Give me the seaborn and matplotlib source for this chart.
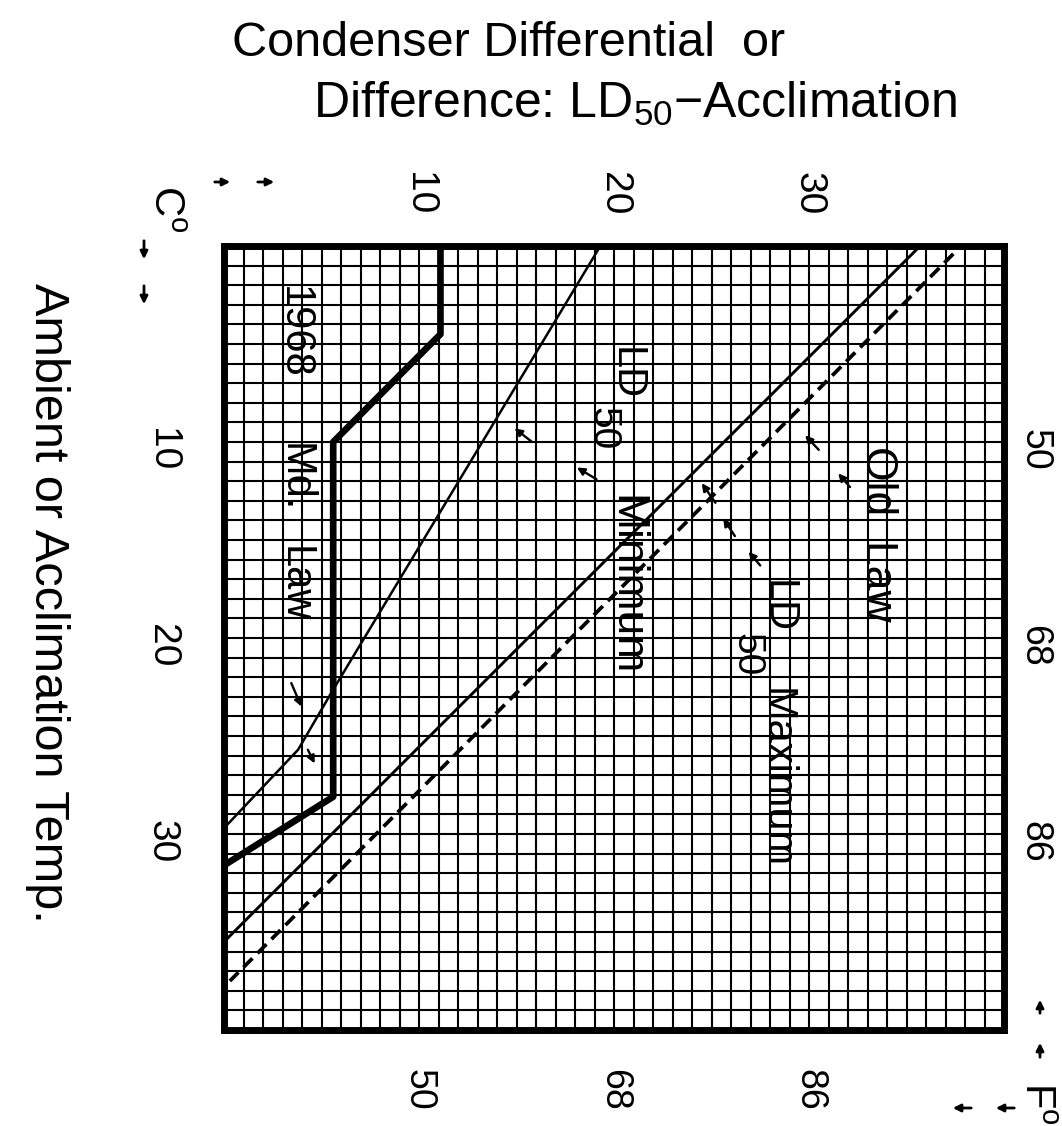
import matplotlib
matplotlib.use("Agg")
import matplotlib.pyplot as plt
from matplotlib import font_manager
from matplotlib.transforms import ScaledTranslation
import seaborn as sns
import numpy as np
import pandas as pd

# ---- data (degrees C): x = condenser differential, y = ambient / acclimation temp ----
md_law_diff = [11.1, 11.1, 5.6, 5.6, 0.0]
md_law_amb = [0.0, 4.5, 10.0, 28.1, 31.6]

ld50_min_diff = [19.3, 5.5, 3.8, 0.0]
ld50_min_amb = [0.0, 22.8, 25.7, 29.7]

old_law_diff = [35.7, 0.0]
old_law_amb = [0.0, 35.5]

ld50_max_diff = [37.4, 0.3]
ld50_max_amb = [0.4, 37.5]

celsius_ticks = [10, 20, 30]
fahrenheit_ticks = [50, 68, 86]
celsius_labels = ["10", "20", "30"]
fahrenheit_labels = ["50", "68", "86"]

sns.set_theme(style="white")
installed = {f.name for f in font_manager.fontManager.ttflist}
narrow = "Liberation Sans Narrow" in installed
base_font = "Liberation Sans Narrow" if narrow else "Liberation Sans"
k = 1.12 if narrow else 1.0   # size factor so text keeps its length
plt.rcParams["font.family"] = [base_font, "DejaVu Sans"]
plt.rcParams["mathtext.fontset"] = "custom"
plt.rcParams["mathtext.rm"] = base_font
plt.rcParams["mathtext.it"] = base_font
plt.rcParams.update({"text.color": "black", "axes.labelcolor": "black",
                     "xtick.color": "black", "ytick.color": "black"})

W, H = 1062, 1126
fig = plt.figure(figsize=(W / 100, H / 100), dpi=100)
fig.patch.set_facecolor("white")
ax = fig.add_axes([224 / W, 1 - 1030 / H, 780 / W, 784 / H])

series = [
    ("1968 Md. Law", md_law_diff, md_law_amb, 4.8, "-"),
    ("LD50 Minimum", ld50_min_diff, ld50_min_amb, 1.8, "-"),
    ("Old Law", old_law_diff, old_law_amb, 2.1, "-"),
    ("LD50 Maximum", ld50_max_diff, ld50_max_amb, 2.7, "--"),
]
for name, xs, ys, lw, ls in series:
    df = pd.DataFrame({"diff": xs, "amb": ys})
    sns.lineplot(data=df, x="diff", y="amb", sort=False, estimator=None,
                 color="black", lw=lw, ax=ax, solid_capstyle="butt")
    line = ax.lines[-1]
    line.set_linestyle(ls)
    if ls == "--":
        line.set_dashes((3.4, 1.9))
    line.set_zorder(5)

ax.set_xlim(0, 40)
ax.set_ylim(40, 0)

# grid every degree
ax.set_xticks(np.arange(0, 41, 1), minor=True)
ax.set_yticks(np.arange(0, 41, 1), minor=True)
ax.grid(which="both", color="black", lw=1.5)
ax.set_axisbelow(True)
for s in ax.spines.values():
    s.set_visible(True)
    s.set_color("black")
    s.set_linewidth(5.0)

fs = 28 * k
# top: degrees C differential
ax.set_xticks(celsius_ticks)
ax.set_xticklabels(celsius_labels, rotation=-90, fontsize=fs)
ax.tick_params(axis="x", which="both", length=0, top=False, bottom=False,
               labeltop=True, labelbottom=False, pad=22)
# left: degrees C ambient
ax.set_yticks(celsius_ticks)
ax.set_yticklabels(celsius_labels, rotation=-90, fontsize=fs, va="center")
ax.tick_params(axis="y", which="both", length=0, left=False, right=False, pad=32)
down = ScaledTranslation(0, -8 / 100, fig.dpi_scale_trans)
for t in ax.get_yticklabels():
    t.set_transform(t.get_transform() + down)

c2f = (lambda c: c * 9 / 5 + 32, lambda f: (f - 32) * 5 / 9)
secx = ax.secondary_xaxis("bottom", functions=c2f)
secx.set_xticks(fahrenheit_ticks)
secx.set_xticklabels(fahrenheit_labels, rotation=-90, fontsize=27 * k)
secx.tick_params(length=0, pad=28)
secy = ax.secondary_yaxis("right", functions=c2f)
secy.set_yticks(fahrenheit_ticks)
secy.set_yticklabels(fahrenheit_labels, rotation=-90, fontsize=27 * k, va="center")
secy.tick_params(length=0, pad=9)
for t in secy.get_yticklabels():
    t.set_transform(t.get_transform() + down)
for sa in (secx, secy):
    for s in sa.spines.values():
        s.set_visible(False)

ax.set_xlabel("")
ax.set_ylabel("Ambient or Acclimation Temp.", rotation=-90, fontsize=35 * k,
              va="center", ha="center")
ax.yaxis.set_label_coords(-0.226, 0.545)

fig.text(509 / W, 1 - 43 / H, "Condenser Differential  or", fontsize=35 * k,
         ha="center", va="center")
fig.text(635 / W, 1 - 104 / H, "Difference: LD$_{50}$$-$Acclimation", fontsize=36 * k,
         ha="center", va="center")

# curve labels
lab_kw = dict(rotation=-90, ha="center", va="center", fontsize=30 * k, zorder=6)
ax.text(3.6, 4.4, "1968", **lab_kw)
ax.text(3.6, 11.8, "Md.", **lab_kw)
ax.text(3.6, 17.25, "Law", **lab_kw)
ax.text(20.6, 6.5, "LD", **lab_kw)
ax.text(19.4, 9.3, "50", **{**lab_kw, "fontsize": 28 * k})
ax.text(20.6, 17.3, "Minimum", **{**lab_kw, "fontsize": 32 * k})
ax.text(33.5, 14.7, "Old  Law", **{**lab_kw, "fontsize": 32 * k})
ax.text(28.4, 18.4, "LD", **lab_kw)
ax.text(26.8, 20.85, "50", **{**lab_kw, "fontsize": 28 * k})
ax.text(28.3, 27.15, "Maximum", **lab_kw)

# small pointer arrows (tail -> head)
pointers = [
    ((15.8, 10.0), (14.9, 9.3)), ((19.1, 11.9), (18.1, 11.3)),
    ((3.45, 22.3), (3.97, 23.5)), ((4.3, 25.7), (4.65, 26.4)),
    ((30.5, 10.4), (29.8, 9.66)), ((32.1, 12.3), (31.5, 11.6)),
    ((25.2, 13.1), (24.5, 12.1)), ((26.2, 14.8), (25.6, 13.9)),
    ((27.5, 16.3), (26.9, 15.6)),
]
for tail, head in pointers:
    ax.annotate("", xy=head, xytext=tail, zorder=6,
                arrowprops=dict(arrowstyle="-|>", color="black", lw=1.7,
                                mutation_scale=11, shrinkA=0, shrinkB=0))

# unit corner marks
fig.text(165 / W, 1 - 209 / H, "C$^{\\mathrm{o}}$", rotation=-90, fontsize=30 * k,
         ha="center", va="center")
fig.text(1036 / W, 1 - 1103 / H, "F$^{\\mathrm{o}}$", rotation=-90, fontsize=30 * k,
         ha="center", va="center")
corner_arrows = [
    ((212, 182), (233, 182)), ((255, 182), (277, 182)),
    ((144, 238), (144, 262)), ((144, 283), (144, 307)),
    ((1040, 1016), (1040, 997)), ((1040, 1060), (1040, 1040)),
    ((974, 1108), (950, 1108)), ((1017, 1108), (993, 1108)),
]
for (x0, y0), (x1, y1) in corner_arrows:
    fig.add_artist(matplotlib.patches.FancyArrowPatch(
        (x0 / W, 1 - y0 / H), (x1 / W, 1 - y1 / H), transform=fig.transFigure,
        arrowstyle="-|>", mutation_scale=11, lw=2, color="black"))

fig.savefig("out.png", dpi=100, facecolor="white")
